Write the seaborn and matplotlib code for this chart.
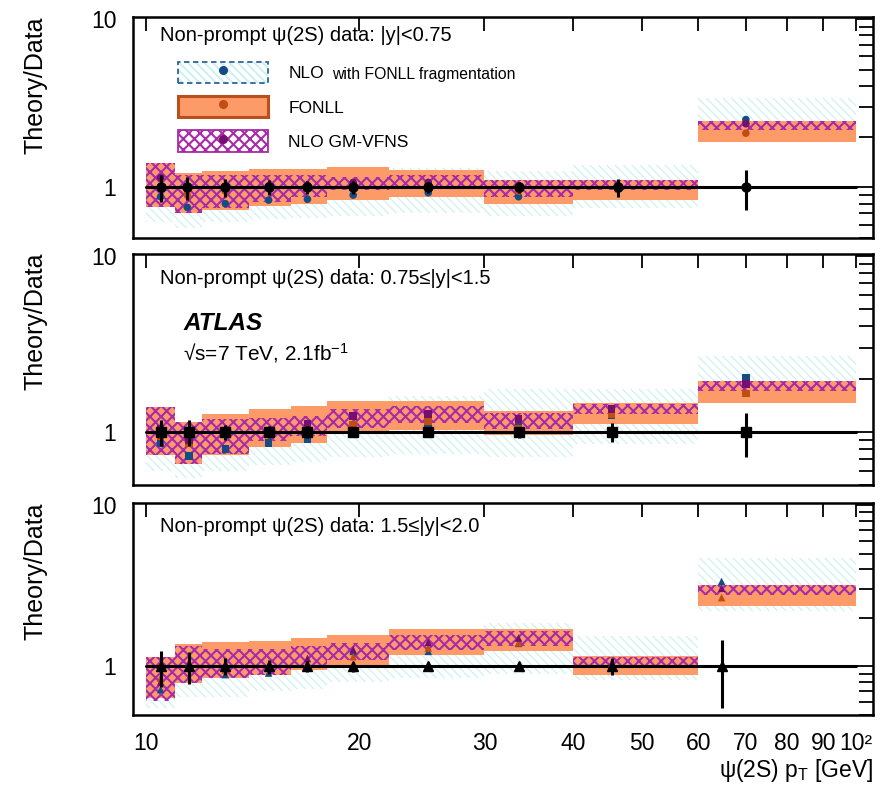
import numpy as np
import pandas as pd
import matplotlib
matplotlib.use("Agg")
import matplotlib.pyplot as plt
import seaborn as sns
from matplotlib.patches import Patch
from matplotlib.lines import Line2D
from matplotlib.legend_handler import HandlerTuple
from matplotlib.ticker import FixedLocator, NullLocator, LogLocator, NullFormatter, FixedFormatter

# ---------------- data ----------------
edges = [10, 11, 12, 14, 16, 18, 22, 30, 40, 60, 100]

# |y| < 0.75
x1 = [10.5, 11.45, 12.95, 14.9, 16.9, 19.6, 25.0, 33.5, 46.2, 70.0]
fonll_lo1 = [0.76, 0.70, 0.73, 0.78, 0.80, 0.845, 0.875, 0.80, 0.84, 1.86]
fonll_hi1 = [1.40, 1.21, 1.25, 1.29, 1.29, 1.32, 1.27, 1.11, 1.11, 2.48]
gm_lo1 = [0.76, 0.70, 0.75, 0.82, 0.875, 0.96, 1.0, 0.875, 0.97, 2.18]
gm_hi1 = [1.40, 1.18, 1.18, 1.18, 1.18, 1.16, 1.18, 1.10, 1.10, 2.48]
nlo_lo1 = [0.62, 0.57, 0.62, 0.65, 0.66, 0.68, 0.70, 0.68, 0.75, 1.90]
nlo_hi1 = [1.25, 1.05, 1.10, 1.15, 1.20, 1.25, 1.30, 1.25, 1.35, 3.40]
nlo_c1 = [0.88, 0.76, 0.80, 0.84, 0.85, 0.90, 0.93, 0.88, 1.01, 2.53]
fonll_c1 = [1.0, 0.90, 0.95, 1.0, 1.0, 1.02, 1.03, 0.95, 0.97, 2.10]
gm_c1 = [1.14, 0.98, 1.0, 1.02, 1.03, 1.07, 1.07, 0.98, 1.03, 2.39]
err1 = [0.18, 0.16, 0.12, 0.10, 0.09, 0.09, 0.08, 0.08, 0.12, 0.27]

# 0.75 <= |y| < 1.5
x2 = [10.5, 11.5, 12.95, 14.9, 16.9, 19.6, 25.0, 33.5, 45.3, 70.0]
fonll_lo2 = [0.74, 0.66, 0.74, 0.82, 0.87, 0.97, 1.03, 0.96, 1.11, 1.47]
fonll_hi2 = [1.38, 1.14, 1.27, 1.36, 1.40, 1.51, 1.51, 1.32, 1.47, 1.96]
gm_lo2 = [0.74, 0.66, 0.75, 0.89, 0.95, 1.06, 1.13, 1.04, 1.27, 1.72]
gm_hi2 = [1.38, 1.14, 1.19, 1.21, 1.24, 1.35, 1.41, 1.29, 1.44, 1.96]
nlo_lo2 = [0.60, 0.55, 0.60, 0.65, 0.68, 0.72, 0.75, 0.72, 0.85, 1.50]
nlo_hi2 = [1.30, 1.10, 1.20, 1.30, 1.40, 1.50, 1.60, 1.75, 1.75, 2.70]
nlo_c2 = [0.87, 0.73, 0.80, 0.87, 0.91, 1.02, 1.13, 1.08, 1.25, 2.04]
fonll_c2 = [0.95, 0.87, 0.97, 1.0, 1.05, 1.10, 1.15, 1.05, 1.27, 1.66]
gm_c2 = [1.05, 0.90, 1.0, 1.02, 1.12, 1.23, 1.27, 1.19, 1.35, 1.87]
err2 = [0.17, 0.17, 0.10, 0.08, 0.08, 0.05, 0.05, 0.07, 0.12, 0.28]

# 1.5 <= |y| < 2.0
x3 = [10.5, 11.5, 12.95, 14.9, 16.9, 19.6, 25.0, 33.5, 45.3, 64.7]
fonll_lo3 = [0.64, 0.79, 0.85, 0.89, 0.95, 1.01, 1.17, 1.24, 0.89, 2.38]
fonll_hi3 = [1.14, 1.38, 1.41, 1.43, 1.50, 1.57, 1.70, 1.71, 1.16, 3.20]
gm_lo3 = [0.61, 0.79, 0.85, 0.89, 1.0, 1.10, 1.27, 1.33, 1.0, 2.77]
gm_hi3 = [1.14, 1.33, 1.28, 1.28, 1.33, 1.39, 1.57, 1.65, 1.15, 3.20]
nlo_lo3 = [0.55, 0.65, 0.65, 0.70, 0.72, 0.80, 0.85, 0.90, 0.82, 2.20]
nlo_hi3 = [1.10, 1.30, 1.35, 1.40, 1.45, 1.55, 1.70, 1.85, 1.55, 4.70]
nlo_c3 = [0.72, 0.98, 0.89, 0.91, 1.0, 1.24, 1.24, 1.39, 1.02, 3.36]
fonll_c3 = [0.85, 1.0, 0.95, 0.98, 1.05, 1.15, 1.30, 1.40, 1.0, 2.67]
gm_c3 = [0.80, 1.05, 1.0, 1.02, 1.12, 1.27, 1.41, 1.50, 1.05, 3.05]
err3 = [0.25, 0.22, 0.12, 0.10, 0.08, 0.07, 0.06, 0.06, 0.12, 0.45]

panel_titles = ["Non-prompt \u03c8(2S) data: |y|<0.75",
                "Non-prompt \u03c8(2S) data: 0.75\u2264|y|<1.5",
                "Non-prompt \u03c8(2S) data: 1.5\u2264|y|<2.0"]
xtick_vals = [10, 20, 30, 40, 50, 60, 70, 80, 90, 100]
xtick_labels = ["10", "20", "30", "40", "50", "60", "70", "80", "90", "10\u00b2"]

# ---------------- style ----------------
sns.set_theme(style="white")
plt.rcParams["font.family"] = ["Liberation Sans", "DejaVu Sans"]
plt.rcParams["mathtext.fontset"] = "custom"
plt.rcParams["mathtext.rm"] = "Liberation Sans"
plt.rcParams["mathtext.it"] = "Liberation Sans:italic"
plt.rcParams["mathtext.bf"] = "Liberation Sans:bold"
for k in ["text.color", "axes.labelcolor", "xtick.color", "ytick.color", "axes.edgecolor"]:
    plt.rcParams[k] = "black"

C_ORANGE = "#fc9b68"
C_ORANGE_EDGE = "#b9501c"
C_PURPLE = "#a82aa8"
C_CYAN = "#cdf1f2"
C_NLO_EDGE = "#2f6395"
M_NLO = "#154d82"
M_FONLL = "#c04d12"
M_GM = "#74106f"
HATCH_NLO = "\\\\\\\\"
HATCH_GM = "xxx"

fig = plt.figure(figsize=(8.87, 7.85), dpi=100)
W, H = 887, 785
L, R = 133 / W, 873 / W
panel_px = [(17, 238), (254, 485), (503, 715)]
axes = []
for (t, b) in panel_px:
    axes.append(fig.add_axes([L, 1 - b / H, R - L, (b - t) / H]))

panels = [
    (x1, fonll_lo1, fonll_hi1, gm_lo1, gm_hi1, nlo_lo1, nlo_hi1, nlo_c1, fonll_c1, gm_c1, err1, "o"),
    (x2, fonll_lo2, fonll_hi2, gm_lo2, gm_hi2, nlo_lo2, nlo_hi2, nlo_c2, fonll_c2, gm_c2, err2, "s"),
    (x3, fonll_lo3, fonll_hi3, gm_lo3, gm_hi3, nlo_lo3, nlo_hi3, nlo_c3, fonll_c3, gm_c3, err3, "^"),
]

left = np.array(edges[:-1], dtype=float)
width = np.diff(edges).astype(float)

for i, (ax, p) in enumerate(zip(axes, panels)):
    (x, flo, fhi, glo, ghi, nlo_lo, nlo_hi, nc, fc, gc, err, mk) = p
    flo, fhi, glo, ghi = map(np.array, (flo, fhi, glo, ghi))
    nlo_lo, nlo_hi = np.array(nlo_lo), np.array(nlo_hi)
    ax.set_xscale("log")
    ax.set_yscale("log")
    # NLO band (light cyan hatch)
    plt.rcParams["hatch.linewidth"] = 0.9
    ax.bar(left, nlo_hi - nlo_lo, bottom=nlo_lo, width=width, align="edge",
           facecolor="none", edgecolor=C_CYAN, linewidth=0, hatch=HATCH_NLO, zorder=1)
    # FONLL band
    ax.bar(left, fhi - flo, bottom=flo, width=width, align="edge",
           facecolor=C_ORANGE, edgecolor="none", linewidth=0, zorder=2)
    # GM-VFNS band
    plt.rcParams["hatch.linewidth"] = 1.5
    ax.bar(left, ghi - glo, bottom=glo, width=width, align="edge",
           facecolor="none", edgecolor=C_PURPLE, linewidth=0, hatch=HATCH_GM, zorder=3)
    # line at 1
    ax.plot([10, 100], [1, 1], color="black", lw=2.2, zorder=4)
    # theory central points
    df = pd.DataFrame({"pt": list(x) * 3,
                       "ratio": list(nc) + list(fc) + list(gc),
                       "model": ["NLO"] * len(x) + ["FONLL"] * len(x) + ["GM"] * len(x)})
    sns.scatterplot(data=df, x="pt", y="ratio", hue="model",
                    palette={"NLO": M_NLO, "FONLL": M_FONLL, "GM": M_GM},
                    marker=mk, s=30, linewidth=0, legend=False, ax=ax, zorder=5)
    # data
    ax.errorbar(x, np.ones(len(x)), yerr=err, fmt=mk, color="black", ms=6.5,
                elinewidth=2.2, capsize=0, zorder=6)
    ax.set_xlim(9.6, 105.7)
    ax.set_ylim(0.5, 10.3)
    ax.set_xlabel("")
    ax.set_ylabel("")
    ax.xaxis.set_major_locator(FixedLocator(xtick_vals))
    ax.xaxis.set_minor_locator(NullLocator())
    if i == 2:
        ax.xaxis.set_major_formatter(FixedFormatter(xtick_labels))
    else:
        ax.xaxis.set_major_formatter(NullFormatter())
    ax.yaxis.set_major_locator(FixedLocator([1, 10]))
    ax.yaxis.set_major_formatter(FixedFormatter(["1", "10"]))
    ax.yaxis.set_minor_locator(LogLocator(base=10, subs=np.arange(2, 10) * 1.0, numticks=20))
    ax.yaxis.set_minor_formatter(NullFormatter())
    ax.tick_params(axis="both", which="both", direction="in", top=True, right=True,
                   width=1.3, colors="black", labelsize=16.5)
    ax.tick_params(axis="y", which="major", length=12, pad=12)
    ax.tick_params(axis="y", which="minor", length=10)
    ax.tick_params(axis="x", which="major", length=10, pad=12)
    for s in ax.spines.values():
        s.set_linewidth(1.8)
        s.set_color("black")
    ax.text(0.0365, {0: 0.918, 1: 0.896, 2: 0.887}[i], panel_titles[i],
            transform=ax.transAxes, fontsize=14.5, ha="left", va="center")
    top_px = panel_px[i][0]
    fig.text(35 / W, 1 - (top_px - 1) / H, "Theory/Data", rotation=90,
             ha="center", va="top", fontsize=18)

# legend in top panel
ax0 = axes[0]
plt.rcParams["hatch.linewidth"] = 0.9
p_nlo = Patch(facecolor="white", edgecolor=C_CYAN, hatch=HATCH_NLO, linewidth=0)
plt.rcParams["hatch.linewidth"] = 1.5
p_gm = Patch(facecolor="white", edgecolor=C_PURPLE, hatch=HATCH_GM, linewidth=1.3)
h_nlo = (p_nlo,
         Patch(facecolor="none", edgecolor=C_NLO_EDGE, linestyle=(0, (3, 2)), linewidth=1.3),
         Line2D([], [], marker="o", color=M_NLO, ls="none", ms=5.5))
h_fonll = (Patch(facecolor=C_ORANGE, edgecolor=C_ORANGE_EDGE, linewidth=2.2),
           Line2D([], [], marker="o", color=M_FONLL, ls="none", ms=5.5))
h_gm = (p_gm, Line2D([], [], marker="o", color=M_GM, ls="none", ms=5.5))
leg = ax0.legend([h_nlo, h_fonll, h_gm], ["NLO", "FONLL", "NLO GM-VFNS"],
                 handler_map={tuple: HandlerTuple(ndivide=1)},
                 loc="upper left", bbox_to_anchor=((178 - 133) / 740, 1 - (62 - 17) / 221),
                 frameon=False, fontsize=12.5, handlelength=5.2, handleheight=1.5,
                 labelspacing=0.75, handletextpad=1.15, borderpad=0, borderaxespad=0)
ax0.text((332 - 133) / 740, 1 - (75 - 17) / 221, "with FONLL fragmentation",
         transform=ax0.transAxes, fontsize=11.3, ha="left", va="center")

# ATLAS label in middle panel
ax1 = axes[1]
ax1.text((184 - 133) / 740, 1 - (323 - 254) / 231, "ATLAS", transform=ax1.transAxes,
         fontsize=17.5, fontweight="bold", fontstyle="italic", ha="left", va="center")
ax1.text((183 - 133) / 740, 1 - (353 - 254) / 231, "\u221As=7 TeV, 2.1fb$^{-1}$",
         transform=ax1.transAxes, fontsize=15, ha="left", va="center")

fig.text(873 / W, 1 - 770 / H, "\u03c8(2S) p$_{\\mathrm{T}}$ [GeV]", ha="right",
         va="center", fontsize=16.5)

fig.savefig("out.png", dpi=100)
